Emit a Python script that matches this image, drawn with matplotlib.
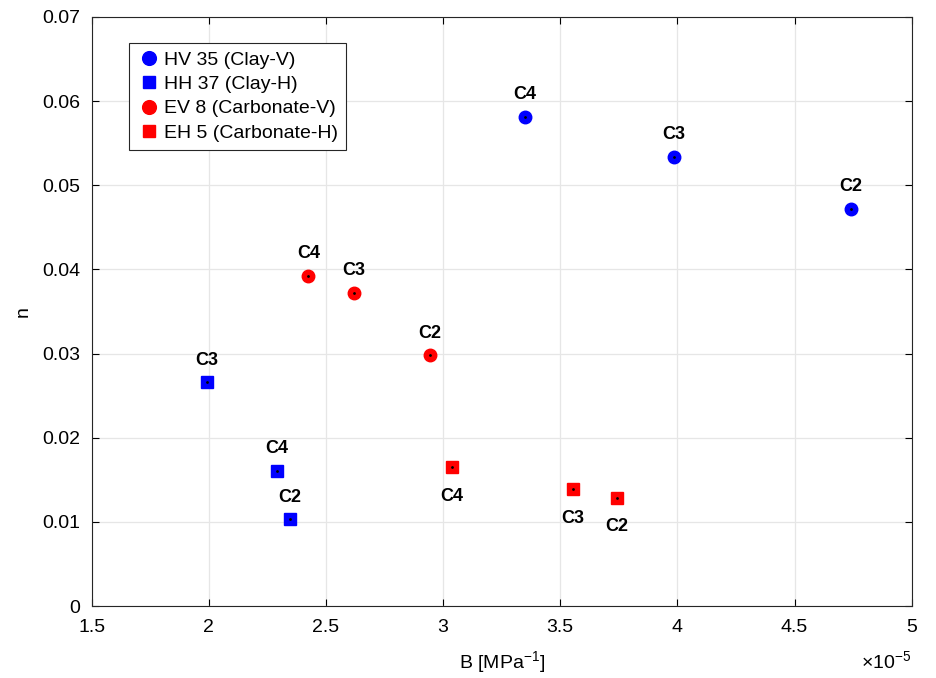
import matplotlib.pyplot as plt
import numpy as np

plt.rcParams['font.family'] = ['Liberation Sans', 'DejaVu Sans']
plt.rcParams['mathtext.fontset'] = 'custom'
plt.rcParams['mathtext.rm'] = 'Liberation Sans'

# B values in units of 1e-5 MPa^-1, n values
labels = ['C2', 'C3', 'C4']
hv_B = [4.739, 3.984, 3.348]
hv_n = [0.0472, 0.0534, 0.0581]
hh_B = [2.345, 1.990, 2.290]
hh_n = [0.0103, 0.0266, 0.0161]
ev_B = [2.943, 2.618, 2.425]
ev_n = [0.0298, 0.0372, 0.0392]
eh_B = [3.741, 3.553, 3.036]
eh_n = [0.0129, 0.0139, 0.0165]
xticks = [1.5, 2, 2.5, 3, 3.5, 4, 4.5, 5]
xticklabels = ['1.5', '2', '2.5', '3', '3.5', '4', '4.5', '5']
yticks = [0, 0.01, 0.02, 0.03, 0.04, 0.05, 0.06, 0.07]
yticklabels = ['0', '0.01', '0.02', '0.03', '0.04', '0.05', '0.06', '0.07']

fig = plt.figure(figsize=(9.36, 6.78), dpi=100)
ax = fig.add_axes([0.098, 0.106, 0.876, 0.869])

series = [
    (hv_B, hv_n, 'o', 'blue', 'HV 35 (Clay-V)', 'above'),
    (hh_B, hh_n, 's', 'blue', 'HH 37 (Clay-H)', 'above'),
    (ev_B, ev_n, 'o', 'red', 'EV 8 (Carbonate-V)', 'above'),
    (eh_B, eh_n, 's', 'red', 'EH 5 (Carbonate-H)', 'below'),
]

for B, n, mk, col, lab, pos in series:
    ax.plot(B, n, linestyle='none', marker=mk, color=col,
            markersize=9 if mk == 'o' else 8, markeredgecolor=col, label=lab, zorder=3)
    ax.plot(B, n, linestyle='none', marker='.', color='black', markersize=2, zorder=4)
    for x, y, t in zip(B, n, labels):
        dy = 16 if pos == 'above' else -21
        ax.annotate(t, (x, y), xytext=(0, dy), textcoords='offset points',
                    ha='center', va='center', fontsize=13, fontweight='bold')

ax.set_xlim(1.5, 5)
ax.set_ylim(0, 0.07)
ax.set_xticks(xticks)
ax.set_xticklabels(xticklabels)
ax.set_yticks(yticks)
ax.set_yticklabels(yticklabels)
ax.tick_params(direction='in', labelsize=14, length=5, top=True, right=True)
ax.tick_params(axis='x', pad=9)
ax.tick_params(axis='y', pad=8)
ax.grid(True, color='#e6e6e6', linewidth=0.9)
ax.set_axisbelow(True)
for s in ax.spines.values():
    s.set_color('#262626')
ax.set_xlabel('B [MPa$^{-1}$]', fontsize=14, labelpad=10)
ax.set_ylabel('n', fontsize=14, labelpad=8)
ax.text(1.0, -0.075, r'$\times$10$^{-5}$', transform=ax.transAxes, ha='right', va='top',
        fontsize=14)

leg = ax.legend(loc='upper left', bbox_to_anchor=(0.034, 0.972), fontsize=14,
                fancybox=False, edgecolor='#262626', framealpha=1,
                handletextpad=0.2, handlelength=1.2, borderpad=0.4, labelspacing=0.35,
                markerscale=1.1)
leg.get_frame().set_linewidth(0.8)

fig.savefig('out.png', dpi=100)
